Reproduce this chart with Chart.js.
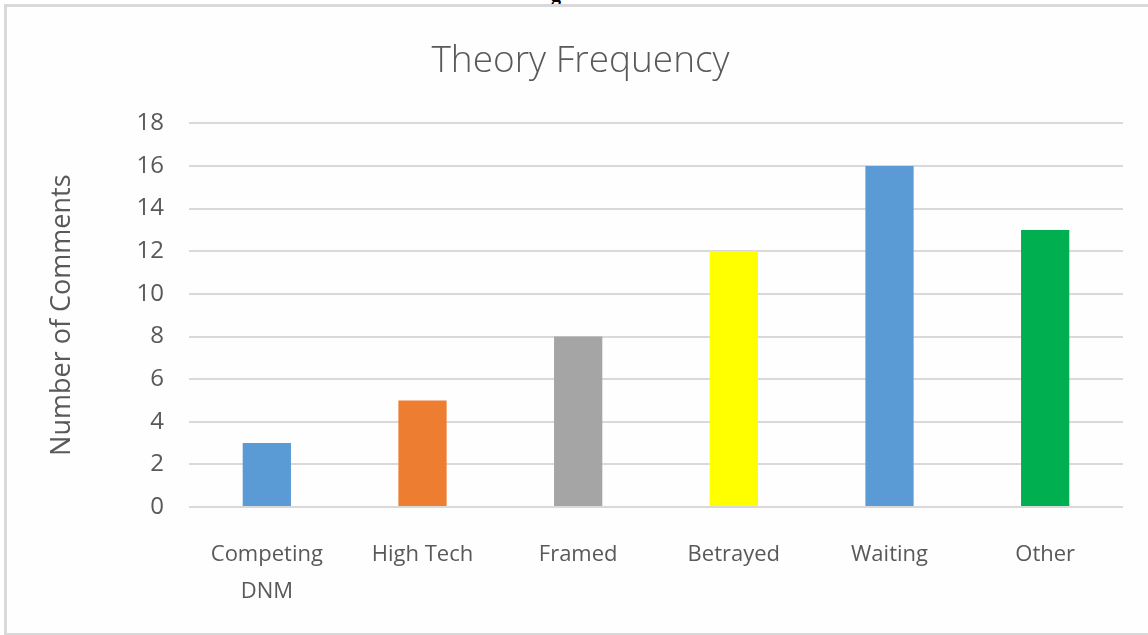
<!DOCTYPE html>
<html>
<head>
<meta charset="utf-8">
<script src="https://cdn.jsdelivr.net/npm/chart.js@4"></script>
<style>
  html, body { margin: 0; padding: 0; background: #fff; }
  body { width: 1148px; height: 635px; position: relative; overflow: hidden; }
  #frame {
    position: absolute; left: 4px; top: 4px; width: 1160px; height: 626px;
    border: 3px solid #d9d9d9; background: #fefefe;
  }
  #cap {
    position: absolute; left: 551px; top: -17px;
    font: bold 20px "Liberation Serif", serif; color: #000;
  }
  #wrap { position: absolute; left: 0; top: 0; width: 1148px; height: 635px; }
</style>
</head>
<body>
<div id="cap">g</div>
<div id="frame"></div>
<div id="wrap"><canvas id="theoryChart" width="1148" height="635"></canvas></div>
<script>
"use strict";

const theoryLabels = [["Competing", "DNM"], "High Tech", "Framed", "Betrayed", "Waiting", "Other"];
const commentCounts = [3, 5, 8, 12, 16, 13];
const barColors = ["#5B9BD5", "#ED7D31", "#A5A5A5", "#FFFF00", "#5B9BD5", "#00B050"];
const yTicks = [0, 2, 4, 6, 8, 10, 12, 14, 16, 18];

const ctx = document.getElementById("theoryChart").getContext("2d");

const theoryChart = new Chart(ctx, {
  type: "bar",
  data: {
    labels: theoryLabels,
    datasets: [
      {
        label: "Number of Comments",
        data: commentCounts,
        backgroundColor: barColors,
        categoryPercentage: 1,
        barPercentage: 0.31,
      },
    ],
  },
  options: {
    responsive: false,
    animation: false,
    layout: {
      padding: { top: 0, right: 25, bottom: 0, left: 38 },
    },
    plugins: {
      legend: { display: false },
      tooltip: { enabled: false },
      title: {
        display: true,
        text: "Theory Frequency",
        color: "#595959",
        font: { family: "Open Sans", size: 37, weight: "300", lineHeight: 1.2 },
        padding: { top: 39, bottom: 40 },
      },
    },
    scales: {
      x: {
        grid: { display: false },
        border: { display: false },
        ticks: {
          color: "#595959",
          font: { family: "Open Sans", size: 22, lineHeight: 1.7 },
          padding: 21,
          maxRotation: 0,
          autoSkip: false,
        },
        afterFit: (scale) => { scale.height = 128; },
      },
      y: {
        min: 0,
        max: 18,
        afterBuildTicks: (scale) => {
          scale.ticks = yTicks.map((v) => ({ value: v }));
        },
        grid: { color: "#d9d9d9", lineWidth: 2, drawTicks: false },
        border: { display: false },
        ticks: {
          color: "#595959",
          font: { family: "Open Sans", size: 24 },
          padding: 25,
        },
        title: {
          display: true,
          text: "Number of Comments",
          color: "#595959",
          font: { family: "Open Sans", size: 27 },
          padding: { top: 8, bottom: 0 },
        },
        afterFit: (scale) => { scale.width = 151; },
      },
    },
  },
});
</script>
</body>
</html>
